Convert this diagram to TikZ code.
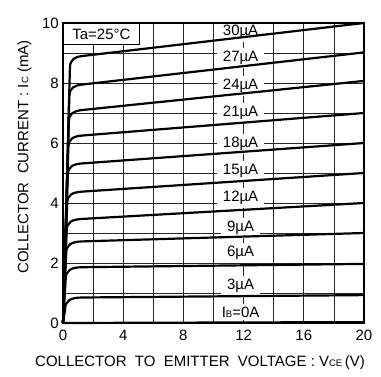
\documentclass[tikz,border=0pt]{standalone}
\usepackage{fontspec}
\setmainfont{Liberation Sans}
\newcommand{\smallsub}[1]{{\fontsize{9.5}{9.5}\selectfont #1}}
\begin{document}
\begin{tikzpicture}[x=1pt,y=1pt,
  txt/.style={font=\fontsize{15}{17}\selectfont, inner sep=0pt},
  gridline/.style={line width=0.75pt, black!85},
  curve/.style={line width=2.2pt, black, line join=round},
  frameline/.style={line width=1.6pt, black},
  curvelabel/.style={txt, fill=white, inner xsep=6pt, inner ysep=3pt},
  tabox/.style={txt, draw, fill=white, line width=0.8pt, anchor=north west, minimum width=76pt, minimum height=21pt}]
\useasboundingbox (0,0) rectangle (381,376);
\fill[white] (0,0) rectangle (381,376);
\begin{scope}[shift={(63,53)}, x=15.05pt, y=30pt]
  % grid
  \draw[gridline] (0,0) grid[xstep=2,ystep=1] (20,10);
  % curve labels
  \foreach \n/\yy/\lab in {l30/9.7/30µA, l27/8.83/27µA, l24/7.9/24µA, l21/7.0/21µA, l18/5.97/18µA, l15/5.07/15µA, l12/4.17/12µA, l9/3.17/9µA, l6/2.33/6µA, l3/1.23/3µA}
    \node[curvelabel] (\n) at (11.8,\yy) {\lab};
  \node[curvelabel] (l0) at (11.8,0.37) {I\smallsub{B}=0A};
  % Ta box
  \node[tabox] (ta) at (0,10) {Ta=25°C};
  % curves
  \foreach \ik/\ie in {8.9/10.0, 7.95/9.02, 7.1/8.07, 6.25/7.0, 5.32/6.0, 4.38/5.0, 3.47/4.0, 2.72/3.0, 1.86/1.97, 0.85/0.93} {
    \pgfmathsetmacro{\ib}{\ik-0.4}
    \pgfmathsetmacro{\vb}{0.12+0.04*\ib}
    \pgfmathsetmacro{\sl}{(\ie-\ik)/18.7}
    \pgfmathsetmacro{\ctop}{\ik-0.1}
    \pgfmathsetmacro{\cx}{\vb+0.35}
    \pgfmathsetmacro{\cy}{\ik+\sl*(\cx-1.3)}
    \draw[curve] (0,0) -- (\vb,\ib) .. controls (\vb,\ctop) and (\cx,\cy) .. (1.3,\ik) -- (20,\ie);
  }
  \draw[curve] (0,0) -- (20,0.03);
  % frame
  \draw[frameline] (0,0) rectangle (20,10);
  % tick labels
  \foreach \v in {0,2,4,6,8,10}
    \node[txt, anchor=east] (yt\v) at ([xshift=-4pt]0,\v) {\v};
  \foreach \v in {0,4,8,12,16,20}
    \node[txt, anchor=north] (xt\v) at ([yshift=-7pt]\v,0) {\v};
\end{scope}
% axis titles
\node[txt, rotate=90] (ylab) at (24.5,219) {COLLECTOR\ \ CURRENT : I\smallsub{C} (mA)};
\node[txt] (xlab) at (200,13) {COLLECTOR\ \ TO\ \ EMITTER\ \ VOLTAGE : V\smallsub{CE}\,(V)};
\end{tikzpicture}
\end{document}
